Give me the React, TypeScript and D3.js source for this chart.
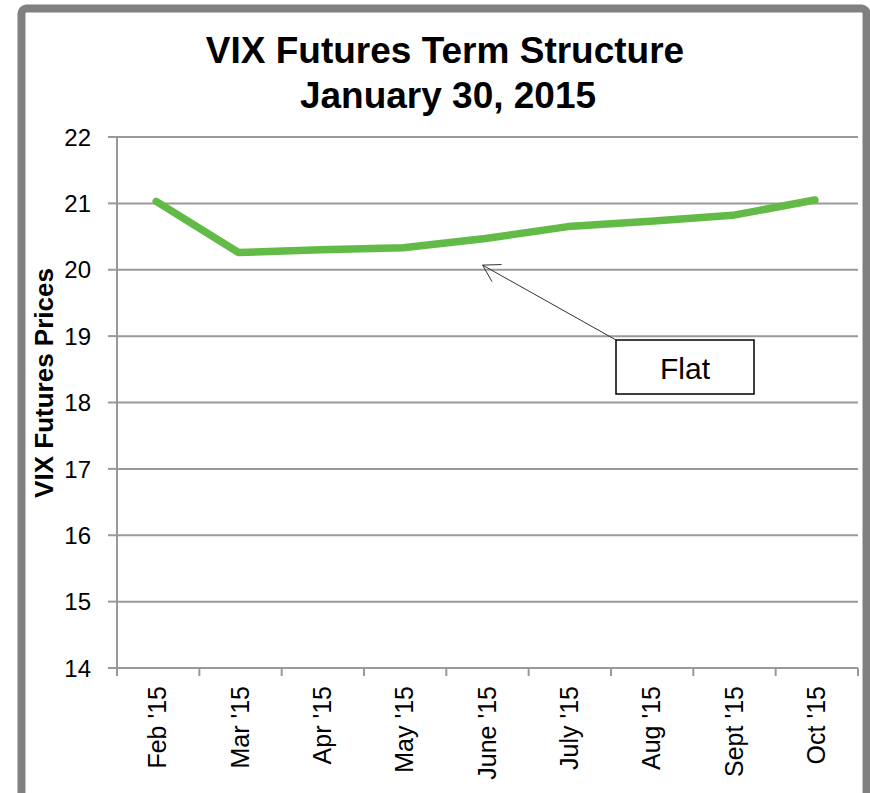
import React from "react";
import * as d3 from "d3";

const categories = ["Feb '15", "Mar '15", "Apr '15", "May '15", "June '15", "July '15", "Aug '15", "Sept '15", "Oct '15"];
const prices = [21.03, 20.26, 20.3, 20.33, 20.47, 20.65, 20.73, 20.82, 21.05];
const yTicks = [14, 15, 16, 17, 18, 19, 20, 21, 22];
const titleLines = ["VIX Futures Term Structure", "January 30, 2015"];
const yAxisTitle = "VIX Futures Prices";
const annotationText = "Flat";
const annotationTarget = { cat: "June '15", value: 20.07, offset: -0.06 };

const W = 870;
const H = 793;
const FONT = "Liberation Sans, Arial, sans-serif";
const GRID = "#999999";
const GREEN = "#62bb47";

export default function App() {
  const left = 117;
  const right = 858;
  const top = 137;
  const bottom = 668;
  const x = d3.scaleBand<string>().domain(categories).range([left, right]);
  const y = d3.scaleLinear().domain([14, 22]).range([bottom, top]);
  const cx = (c: string) => (x(c) as number) + x.bandwidth() / 2;

  const line = d3
    .line<number>()
    .x((_, i) => cx(categories[i]) - 2)
    .y((d) => y(d));

  // annotation
  const tipX = (x(annotationTarget.cat) as number) + x.bandwidth() * (annotationTarget.offset + 0.5);
  const tipY = y(annotationTarget.value);
  const box = { x: 616, y: 340, w: 138, h: 54 };
  const tailX = box.x;
  const tailY = box.y;
  const ang = Math.atan2(tailY - tipY, tailX - tipX);
  const headLen = 19;
  const spread = (31 * Math.PI) / 180;
  const h1 = [tipX + headLen * Math.cos(ang - spread), tipY + headLen * Math.sin(ang - spread)];
  const h2 = [tipX + headLen * Math.cos(ang + spread), tipY + headLen * Math.sin(ang + spread)];

  const boundaries = d3.range(categories.length + 1).map((i) => left + i * x.step());

  return (
    <svg
      width={W}
      height={H}
      style={{ position: "absolute", left: 0, top: 0, background: "#fff" }}
      fontFamily={FONT}
    >
      <rect x={0} y={0} width={W} height={H} fill="#fff" />
      <rect x={21.5} y={8.5} width={845} height={790} rx={5} fill="#fff" stroke="#808080" strokeWidth={8} />

      {/* title */}
      <text x={445} y={63} textAnchor="middle" fontSize={37} fontWeight="bold" fill="#000">
        {titleLines[0]}
      </text>
      <text x={448} y={108} textAnchor="middle" fontSize={37} fontWeight="bold" fill="#000">
        {titleLines[1]}
      </text>

      {/* gridlines */}
      {yTicks.map((t) => (
        <line key={"g" + t} x1={left} x2={right} y1={y(t)} y2={y(t)} stroke={GRID} strokeWidth={2} />
      ))}
      {/* y axis */}
      <line x1={left} x2={left} y1={top} y2={bottom} stroke={GRID} strokeWidth={2} />
      {yTicks.map((t) => (
        <g key={"t" + t}>
          <line x1={left - 9} x2={left} y1={y(t)} y2={y(t)} stroke={GRID} strokeWidth={2} />
          <text x={91} y={y(t)} dy="0.36em" textAnchor="end" fontSize={24} fill="#000">
            {t}
          </text>
        </g>
      ))}
      {/* x axis ticks */}
      {boundaries.map((b, i) => (
        <line key={"xb" + i} x1={b} x2={b} y1={bottom} y2={bottom + 8} stroke={GRID} strokeWidth={2} />
      ))}
      {categories.map((c) => (
        <text
          key={c}
          transform={`translate(${cx(c) + 8},${686}) rotate(-90)`}
          textAnchor="end"
          fontSize={25}
          fill="#000"
        >
          {c}
        </text>
      ))}

      {/* y axis title */}
      <text
        transform={`translate(${53},${383}) rotate(-90)`}
        textAnchor="middle"
        fontSize={26}
        fontWeight="bold"
        fill="#000"
      >
        {yAxisTitle}
      </text>

      {/* series */}
      <path d={line(prices) || ""} fill="none" stroke={GREEN} strokeWidth={7.5} strokeLinecap="round" strokeLinejoin="round" />

      {/* annotation */}
      <line x1={tailX} y1={tailY} x2={tipX} y2={tipY} stroke="#333" strokeWidth={1} />
      <polyline
        points={`${h1[0]},${h1[1]} ${tipX},${tipY} ${h2[0]},${h2[1]}`}
        fill="none"
        stroke="#333"
        strokeWidth={1}
      />
      <rect x={box.x} y={box.y} width={box.w} height={box.h} fill="#fff" stroke="#000" strokeWidth={1.5} />
      <text x={box.x + box.w / 2} y={379} textAnchor="middle" fontSize={30} fill="#000">
        {annotationText}
      </text>
    </svg>
  );
}
